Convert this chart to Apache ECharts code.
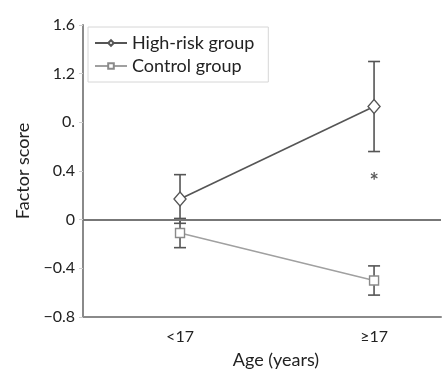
<!DOCTYPE html>
<html><head><meta charset="utf-8">
<script src="https://cdn.jsdelivr.net/npm/echarts@6/dist/echarts.min.js"></script>
<style>html,body{margin:0;padding:0;background:#fff}#c{width:448px;height:374px}</style>
</head><body><div id="c"></div>
<script>
const categories = ['<17', '≥17'];
const yTickLabels = {'1.6':'1.6','1.2':'1.2','0.8':'0.','0.4':'0.4','0':'0','-0.4':'−0.4','-0.8':'−0.8'};
const highRisk = [0.17, 0.93];
const highRiskLow = [-0.03, 0.56];
const highRiskHigh = [0.37, 1.30];
const control = [-0.11, -0.50];
const controlLow = [-0.23, -0.62];
const controlHigh = [0.01, -0.38];
const significance = [null, '*'];
const significanceY = [null, 0.37];

const font = 'Lato';
const xs = categories.map((c, i) => i + 1);
function pts(vals) { return vals.map((v, i) => [xs[i], v]); }
function errData(lo, hi) { return lo.map((l, i) => [xs[i], l, hi[i]]); }
function errRender(color) {
  return function (params, api) {
    const x = api.value(0);
    const lo = api.coord([x, api.value(1)]);
    const hi = api.coord([x, api.value(2)]);
    const w = 6;
    const st = { stroke: color, lineWidth: 1.6 };
    return { type: 'group', children: [
      { type: 'line', shape: { x1: lo[0], y1: lo[1], x2: hi[0], y2: hi[1] }, style: st },
      { type: 'line', shape: { x1: lo[0] - w, y1: lo[1], x2: lo[0] + w, y2: lo[1] }, style: st },
      { type: 'line', shape: { x1: hi[0] - w, y1: hi[1], x2: hi[0] + w, y2: hi[1] }, style: st }
    ]};
  };
}
const chart = echarts.init(document.getElementById('c'), null, { renderer: 'canvas' });
chart.setOption({
  animation: false,
  textStyle: { fontFamily: font },
  grid: { left: 83, top: 25, right: 7, bottom: 48 },
  legend: {
    orient: 'vertical', left: 88, top: 27,
    borderColor: '#d6d6d6', borderWidth: 1, padding: [7, 14, 7, 6],
    itemWidth: 32, itemHeight: 7, itemGap: 5,
    textStyle: { fontFamily: font, fontSize: 18, color: '#222', lineHeight: 18 },
    data: ['High-risk group', 'Control group']
  },
  xAxis: {
    type: 'value', min: 0.5, max: 2.345,
    splitLine: { show: false },
    axisLine: { onZero: false, lineStyle: { color: '#8a8a8a', width: 2 } },
    axisTick: { show: false },
    axisLabel: { customValues: xs, formatter: v => categories[Math.round(v) - 1] || '',
      fontFamily: font, fontSize: 16, color: '#222', margin: 12 },
    name: 'Age (years)', nameLocation: 'middle', nameGap: 34,
    nameTextStyle: { fontFamily: font, fontSize: 18, color: '#222', padding: [0, 0, 0, 28] }
  },
  yAxis: {
    type: 'value', min: -0.8, max: 1.6, interval: 0.4,
    splitLine: { show: false },
    axisLine: { show: true, lineStyle: { color: '#8a8a8a', width: 2 } },
    axisTick: { show: true, length: 4, lineStyle: { color: '#cfcfcf' } },
    axisLabel: { formatter: v => yTickLabels[String(Math.round(v * 10) / 10)] ?? '',
      fontFamily: font, fontSize: 16, color: '#222', margin: 8 },
    name: 'Factor score', nameLocation: 'middle', nameGap: 42,
    nameTextStyle: { fontFamily: font, fontSize: 18, color: '#222' }
  },
  series: [
    { type: 'custom', name: 'hrErr', renderItem: errRender('#555'), data: errData(highRiskLow, highRiskHigh), z: 2,
      encode: { x: 0, y: [1, 2] } },
    { type: 'custom', name: 'ctErr', renderItem: errRender('#555'), data: errData(controlLow, controlHigh), z: 2,
      encode: { x: 0, y: [1, 2] } },
    { type: 'line', name: 'High-risk group', data: pts(highRisk), symbol: 'diamond', symbolSize: [12, 14],
      lineStyle: { color: '#555', width: 1.6 }, itemStyle: { color: '#fff', borderColor: '#555', borderWidth: 1.4 }, z: 5,
      markLine: { silent: true, symbol: 'none', label: { show: false },
        lineStyle: { color: '#777', width: 2, type: 'solid' }, data: [{ yAxis: 0 }] } },
    { type: 'line', name: 'Control group', data: pts(control), symbol: 'rect', symbolSize: 9,
      lineStyle: { color: '#a0a0a0', width: 1.4 }, itemStyle: { color: '#fff', borderColor: '#8a8a8a', borderWidth: 1.4 }, z: 5 },
    { type: 'scatter', name: 'sig', symbolSize: 0,
      data: significance.map((s, i) => s ? { value: [xs[i], significanceY[i]], label: { show: true, formatter: s } } : null).filter(Boolean),
      label: { position: 'inside', fontSize: 22, fontWeight: 'bold', color: '#333', fontFamily: font, offset: [0, 7] } }
  ]
});
</script></body></html>
